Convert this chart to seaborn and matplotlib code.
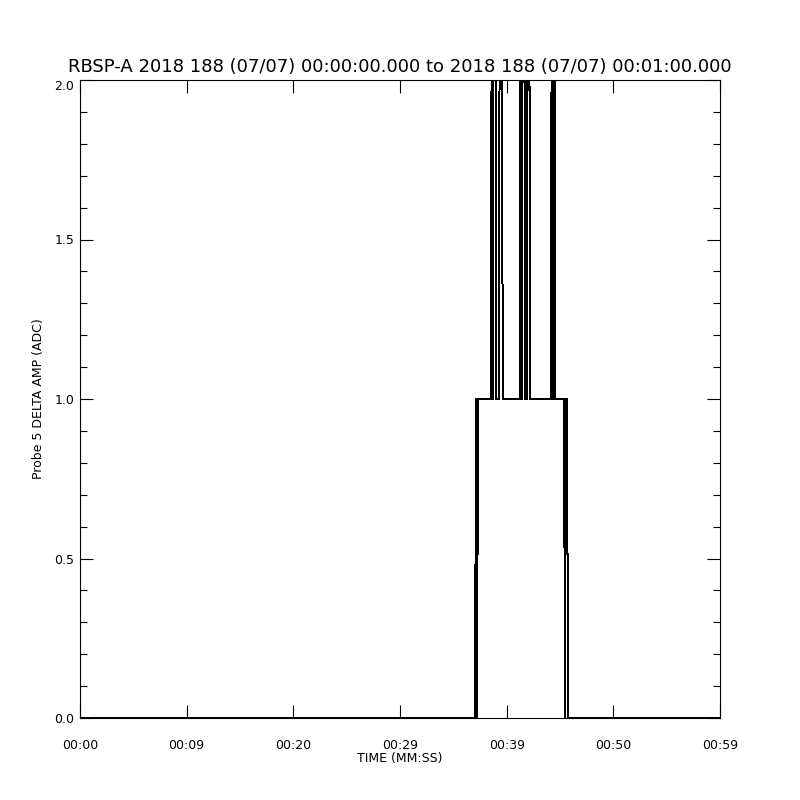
import numpy as np
import pandas as pd
import matplotlib
matplotlib.use("Agg")
import matplotlib.pyplot as plt
import seaborn as sns
from matplotlib.ticker import MultipleLocator

# Data: time in seconds after 00:00:00, delta amplitude (ADC); values above 2 are clipped by the axis
time_s = [0.0, 37.03, 37.13, 37.22, 37.31, 38.53, 38.63, 38.72, 38.81, 38.91,
          39.00, 39.28, 39.38, 39.66, 41.25, 41.34, 41.44, 41.53, 41.63, 41.72,
          41.81, 41.91, 42.00, 42.09, 42.19, 44.16, 44.25, 44.34, 44.44, 44.53,
          45.38, 45.47, 45.56, 45.66, 45.75, 60.0]
delta_amp = [0, 0, 1, 0, 1, 1, 3, 1, 3, 3,
             1, 1, 3, 1, 1, 3, 1, 3, 3, 1,
             3, 1, 3, 3, 1, 1, 3, 1, 3, 1,
             1, 0, 1, 1, 0, 0]

x_ticks = [0, 10, 20, 30, 40, 50, 60]
x_ticklabels = ["00:00", "00:09", "00:20", "00:29", "00:39", "00:50", "00:59"]
y_ticks = [0.0, 0.5, 1.0, 1.5, 2.0]

title = "RBSP-A 2018 188 (07/07) 00:00:00.000 to 2018 188 (07/07) 00:01:00.000"

df = pd.DataFrame({"time": time_s, "amp": delta_amp})

sns.set_style("white")
plt.rcParams['font.family'] = ['DejaVu Sans']
plt.rcParams['text.color'] = 'black'
plt.rcParams['axes.labelcolor'] = 'black'

fig = plt.figure(figsize=(8, 8), dpi=100)
ax = fig.add_axes([0.1, 0.1025, 0.8, 0.7975])

sns.lineplot(data=df, x="time", y="amp", ax=ax, estimator=None, sort=False,
             color="black", linewidth=0.72, antialiased=False)

ax.set_xlim(0, 60)
ax.set_ylim(0, 2)
ax.set_xticks(x_ticks)
ax.set_xticklabels(x_ticklabels)
ax.set_yticks(y_ticks)
ax.set_yticklabels([f"{v:.1f}" for v in y_ticks])
ax.yaxis.set_minor_locator(MultipleLocator(0.1))

ax.tick_params(axis="both", which="both", direction="in", top=True, right=True,
               bottom=True, left=True, colors="black", labelsize=9)
ax.tick_params(axis="x", which="major", length=9.4, width=0.8, pad=15)
ax.tick_params(axis="y", which="major", length=9.4, width=0.8, pad=4)
ax.tick_params(axis="y", which="minor", length=5, width=0.8)

for sp in ax.spines.values():
    sp.set_visible(True)
    sp.set_color("black")
    sp.set_linewidth(0.8)

# IDL-like: top label sits inside the axis range
ax.get_yticklabels()[-1].set_va("top")

ax.set_title(title, fontsize=13, pad=6, color="black")
ax.set_xlabel("TIME (MM:SS)", fontsize=9, labelpad=0)
ax.set_ylabel("Probe 5 DELTA AMP (ADC)", fontsize=9, labelpad=7)

fig.savefig("out.png", dpi=100, facecolor="white")
